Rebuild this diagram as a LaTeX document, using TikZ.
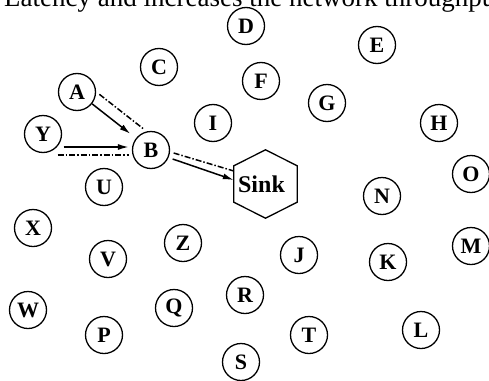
\documentclass[tikz,border=0pt]{standalone}
\usepackage{fontspec}
\setmainfont{Liberation Serif}
\usetikzlibrary{arrows.meta,calc}
\begin{document}
\begin{tikzpicture}[x=1pt,y=-1pt,
  nd/.style={circle, draw, line width=1.3pt, minimum size=37pt, inner sep=0pt, font=\fontsize{22}{22}\selectfont\bfseries},
  conn/.style={line width=1.5pt},
  arr/.style={conn, -{Latex[length=11pt,width=6pt]}},
  dd/.style={conn, dash pattern=on 6pt off 2pt on 1.5pt off 2pt}]
\useasboundingbox (0,0) rectangle (489,380);
\clip (0,0) rectangle (489,380);
\node[anchor=base west, font=\fontsize{27}{27}\selectfont, inner sep=0pt] (title) at (4,6) {Latency and increases the network throughput};
\node[nd] (D) at (246,26) {D};
\node[nd] (E) at (377,45) {E};
\node[nd] (C) at (159,67) {C};
\node[nd] (F) at (261,81) {F};
\node[nd] (A) at (77,92) {A};
\node[nd] (G) at (327,103) {G};
\node[nd] (I) at (213,123) {I};
\node[nd] (H) at (439,123) {H};
\node[nd] (Y) at (43,134) {Y};
\node[nd] (B) at (151,150) {B};
\node[nd] (O) at (471,174) {O};
\node[nd] (N) at (382,196) {N};
\node[nd] (U) at (104,187) {U};
\node[nd] (X) at (33,228) {X};
\node[nd] (Z) at (183,243) {Z};
\node[nd] (J) at (299,255) {J};
\node[nd] (V) at (108,259) {V};
\node[nd] (K) at (388,262) {K};
\node[nd] (M) at (471,246) {M};
\node[nd] (R) at (245,295) {R};
\node[nd] (W) at (28,310) {W};
\node[nd] (Q) at (174,308) {Q};
\node[nd] (L) at (421,330) {L};
\node[nd] (P) at (104,335) {P};
\node[nd] (T) at (309,335) {T};
\node[nd] (S) at (241,362) {S};
% Sink hexagon
\node[minimum width=63pt, minimum height=36pt, inner sep=0pt, font=\fontsize{24}{24}\selectfont\bfseries] (Sink) at (265.5,184) {\kern-8pt Sink};
\draw[line width=1.3pt] (Sink.north west) -- ([yshift=16pt]Sink.north) -- (Sink.north east)
  -- (Sink.south east) -- ([yshift=-16pt]Sink.south) -- (Sink.south west) -- cycle;
% connectors
\draw[arr, shorten >=7pt] (A) -- (B);
\draw[dd, transform canvas={shift={(7.3,-9.5)}}] (A) -- (B);
\draw[arr] ([xshift=1.5pt,yshift=-13pt]Y.east) -- ([xshift=-3pt,yshift=3pt]B.west);
\draw[dd] ([xshift=-4.5pt,yshift=-21pt]Y.east) -- ([xshift=-3pt,yshift=-5pt]B.west);
\draw[arr] ([xshift=2.5pt,yshift=-9pt]B.east) -- ([yshift=4pt]Sink.west);
\draw[dd] ([xshift=3.5pt,yshift=-3pt]B.east) -- ([yshift=13pt]Sink.west);
\end{tikzpicture}
\end{document}
